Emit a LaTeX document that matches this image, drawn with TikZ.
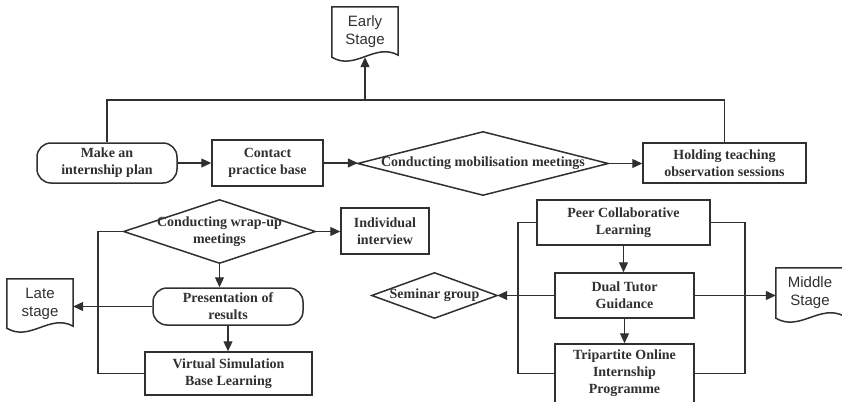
\documentclass[tikz,border=0pt]{standalone}
\usepackage{fontspec}
\setmainfont{Liberation Serif}
\newfontfamily\stagefont{Liberation Sans}
\usetikzlibrary{arrows.meta,calc}
\definecolor{ink}{HTML}{303030}
\newcommand\docborder[1]{%
  \draw[shp] (#1.north west) -- (#1.north east) -- ($(#1.south east)+(0,-2)$)
    .. controls ($(#1.south east)!0.35!(#1.south west)+(0,-15)$)
    and ($(#1.south west)!0.35!(#1.south east)+(0,14)$) .. (#1.south west) -- cycle;}
\newcommand\diaborder[1]{%
  \draw[shp] (#1.north) -- (#1.east) -- (#1.south) -- (#1.west) -- cycle;}
\begin{document}
\begin{tikzpicture}[x=1pt,y=-1pt,
  box/.style={draw=ink, line width=1.5pt, fill=white, inner sep=0pt, align=center,
    font=\bfseries\fontsize{14}{17}\selectfont, text=ink},
  rbox/.style={box, rounded corners=14pt},
  dbox/.style={inner sep=0pt, align=center, font=\bfseries\fontsize{14}{17}\selectfont, text=ink},
  docbox/.style={inner sep=0pt, align=center, font=\stagefont\fontsize{15}{18}\selectfont, text=ink},
  shp/.style={draw=ink, line width=1.5pt},
  conn/.style={draw=ink, line width=1.2pt},
  arr/.style={conn, -{Triangle[length=10pt,width=9pt]}}]
\useasboundingbox (0,0) rectangle (842,401);
\clip (0,0) rectangle (842,401);
% nodes
\node[docbox, minimum width=66pt, minimum height=50pt] (early) at (365,32) {Early\\Stage};
\node[rbox, minimum width=140pt, minimum height=40pt] (make) at (107,163) {Make an\\internship plan};
\node[box, minimum width=111pt, minimum height=46pt] (contact) at (267.5,163) {Contact\\practice base};
\node[dbox, minimum width=250pt, minimum height=63pt] (mob) at (483,163.5) {Conducting mobilisation meetings};
\node[box, minimum width=163pt, minimum height=40pt] (hold) at (724.5,163) {Holding teaching\\observation sessions};
\node[dbox, minimum width=191pt, minimum height=63pt] (wrap) at (219.5,231.5) {Conducting wrap-up\\meetings};
\node[box, minimum width=88pt, minimum height=46pt] (inter) at (385,231) {Individual\\interview};
\node[rbox, minimum width=150pt, minimum height=37pt] (pres) at (228,306.5) {Presentation of\\results};
\node[box, minimum width=167pt, minimum height=43pt] (virt) at (228.5,373.5) {Virtual Simulation\\Base Learning};
\node[docbox, minimum width=66pt, minimum height=49pt] (late) at (40,303.5) {Late\\stage};
\node[box, minimum width=173pt, minimum height=45pt] (peer) at (623.5,222.5) {Peer Collaborative\\Learning};
\node[box, minimum width=139pt, minimum height=45pt] (dual) at (624.5,295.5) {Dual Tutor\\Guidance};
\node[box, minimum width=139pt, minimum height=59pt] (tri) at (624.5,373.5) {Tripartite Online\\Internship\\Programme};
\node[dbox, minimum width=125pt, minimum height=45pt] (sem) at (434.5,295.5) {Seminar group};
\node[docbox, minimum width=68pt, minimum height=50pt] (mid) at (810,293) {Middle\\Stage};
% shapes
\docborder{early}
\docborder{late}
\docborder{mid}
\diaborder{mob}
\diaborder{wrap}
\diaborder{sem}
% connectors
\coordinate (t1) at (107,100);
\coordinate (t3) at (365,100);
\draw[conn] (make.north) -- (make.north |- t1) -- (hold.north |- t1) -- (hold.north);
\draw[arr] (t3) -- (early.south);
\draw[arr] (make.east) -- (contact.west);
\draw[arr] (contact.east) -- (contact.east -| mob.west);
\draw[arr] (mob.east) -- (mob.east -| hold.west);
\draw[arr] (wrap.east) -- (wrap.east -| inter.west);
\draw[arr] (wrap.south) -- (wrap.south |- pres.north);
\draw[arr] (pres.south) -- (pres.south |- virt.north);
\coordinate (lx) at (98,0);
\draw[conn] (wrap.west) -- (wrap.west -| lx) -- (virt.west -| lx) -- (virt.west);
\draw[arr] (pres.west) -- (pres.west -| late.east);
\coordinate (px) at (518,0);
\coordinate (qx) at (745,0);
\draw[conn] (peer.west) -- (peer.west -| px) -- (tri.west -| px) -- (tri.west);
\draw[conn] (peer.east) -- (peer.east -| qx) -- (tri.east -| qx) -- (tri.east);
\draw[arr] (peer.south) -- (peer.south |- dual.north);
\draw[arr] (dual.south) -- (dual.south |- tri.north);
\draw[arr] (dual.west) -- (dual.west -| sem.east);
\draw[arr] (dual.east) -- (dual.east -| mid.west);
\end{tikzpicture}
\end{document}
